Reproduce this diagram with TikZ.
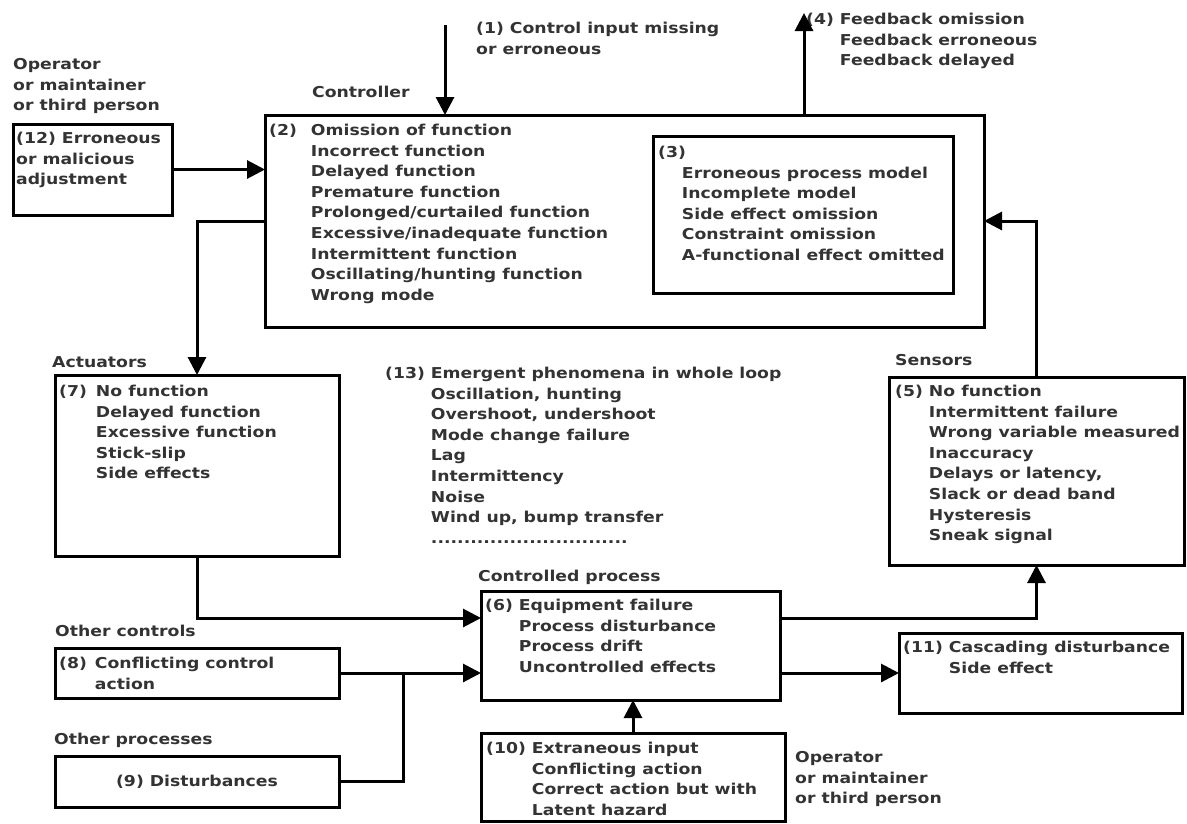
\documentclass[tikz,border=0pt]{standalone}
\usepackage{fontspec}
\setmainfont{DejaVu Sans}[FakeStretch=1.15]
\usepackage{tikz}
\usetikzlibrary{arrows.meta}
\newcommand{\faults}[2][6pt]{\begin{tabular}[t]{@{}l@{\hspace{#1}}l@{}}#2\end{tabular}}
\newcommand{\plain}[1]{\begin{tabular}[t]{@{}l@{}}#1\end{tabular}}

\begin{document}
\begin{tikzpicture}[x=1pt,y=-1pt,
	box/.style={draw, line width=3pt, anchor=north west, inner sep=0pt, outer sep=0pt},
	lab/.style={anchor=base west, inner sep=0pt, text=black!80, font=\fontsize{15}{20.6}\selectfont\bfseries},
	arr/.style={line width=3pt, -{Triangle[length=18pt,width=18pt]}},
	ln/.style={line width=3pt}]
	\useasboundingbox (0,0) rectangle (1187,823);
	% boxes
	\node[box, minimum width=719pt, minimum height=212pt] (ctrl) at (265,115) {};
	\node[box, minimum width=300pt, minimum height=157pt] (model) at (653,136) {};
	\node[box, minimum width=159pt, minimum height=91pt] (adj) at (13,124) {};
	\node[box, minimum width=284pt, minimum height=181pt] (act) at (55,375) {};
	\node[box, minimum width=295pt, minimum height=188pt] (sens) at (889,377) {};
	\node[box, minimum width=299pt, minimum height=109pt] (proc) at (481,591) {};
	\node[box, minimum width=284pt, minimum height=50pt] (other) at (55,648) {};
	\node[box, minimum width=284pt, minimum height=51pt] (dist) at (55,756) {};
	\node[box, minimum width=304pt, minimum height=88pt] (extra) at (481,733) {};
	\node[box, minimum width=283pt, minimum height=80pt] (casc) at (899,633) {};
	% texts
	\node[lab] (ctrllab) at (312,97.5) {Controller};
	\node[lab] (inlab) at (476,33.5) {\plain{(1) Control input missing\\or erroneous}};
	\node[lab] (fblab) at (806,24.5) {\faults{(4) & Feedback omission\\ & Feedback erroneous\\ & Feedback delayed}};
	\node[lab] (oplab) at (13,69.5) {\plain{Operator\\or maintainer\\or third person}};
	\node[lab] (adjlab) at (16,143.5) {\plain{(12) Erroneous\\or malicious\\adjustment}};
	\node[lab] (ctrltxt) at (269,135.5) {\faults[14pt]{(2) & Omission of function\\ & Incorrect function\\ & Delayed function\\ & Premature function\\ & Prolonged/curtailed function\\ & Excessive/inadequate function\\ & Intermittent function\\ & Oscillating/hunting function\\ & Wrong mode}};
	\node[lab] (modeltxt) at (658,157.5) {\faults[-4pt]{(3) & \\ & Erroneous process model\\ & Incomplete model\\ & Side effect omission\\ & Constraint omission\\ & A-functional effect omitted}};
	\node[lab] (actlab) at (52,367.5) {Actuators};
	\node[lab] (acttxt) at (59,396.5) {\faults[9pt]{(7) & No function\\ & Delayed function\\ & Excessive function\\ & Stick-slip\\ & Side effects}};
	\node[lab] (looptxt) at (385,378.5) {\faults{(13) & Emergent phenomena in whole loop\\ & Oscillation, hunting\\ & Overshoot, undershoot\\ & Mode change failure\\ & Lag\\ & Intermittency\\ & Noise\\ & Wind up, bump transfer\\ & ..............................}};
	\node[lab] (senslab) at (895,365.5) {Sensors};
	\node[lab] (senstxt) at (895,396.5) {\faults{(5) & No function\\ & Intermittent failure\\ & Wrong variable measured\\ & Inaccuracy\\ & Delays or latency,\\ & Slack or dead band\\ & Hysteresis\\ & Sneak signal}};
	\node[lab] (proclab) at (478,581.5) {Controlled process};
	\node[lab] (proctxt) at (485,610.5) {\faults{(6) & Equipment failure\\ & Process disturbance\\ & Process drift\\ & Uncontrolled effects}};
	\node[lab] (otherlab) at (55,636.5) {Other controls};
	\node[lab] (othertxt) at (59,668.5) {\faults[8pt]{(8) & Conflicting control\\ & action}};
	\node[lab] (distlab) at (54,744.5) {Other processes};
	\node[lab, anchor=center] (disttxt) at (dist.center) {(9) Disturbances};
	\node[lab] (extratxt) at (486,753.5) {\faults{(10) & Extraneous input\\ & Conflicting action\\ & Correct action but with\\ & Latent hazard}};
	\node[lab] (opbotlab) at (795,762.5) {\plain{Operator\\or maintainer\\or third person}};
	\node[lab] (casctxt) at (903,652.5) {\faults{(11) & Cascading disturbance\\ & Side effect}};
	% connectors
	\coordinate (in) at (445,25);
	\coordinate (fb) at (804,13);
	\coordinate (jn) at (403,673);
	\draw[arr] (in) -- (in |- ctrl.north);
	\draw[arr] (fb |- ctrl.north) -- (fb);
	\draw[arr] (adj.east) -- (adj.east -| ctrl.west);
	\draw[arr] (ctrl.west) -| (act.north);
	\draw[arr] (act.south) |- ([yshift=-27pt]proc.north west);
	\draw[arr] (other.east) -- (other.east -| proc.west);
	\draw[ln] (dist.east) -| (jn);
	\draw[arr] ([yshift=-27pt]proc.north east) -| (sens.south);
	\draw[arr] (casc.west -| proc.east) -- (casc.west);
	\draw[arr] (extra.north) -- (extra.north |- proc.south);
	\draw[arr] (sens.north) |- (ctrl.east);
\end{tikzpicture}
\end{document}
